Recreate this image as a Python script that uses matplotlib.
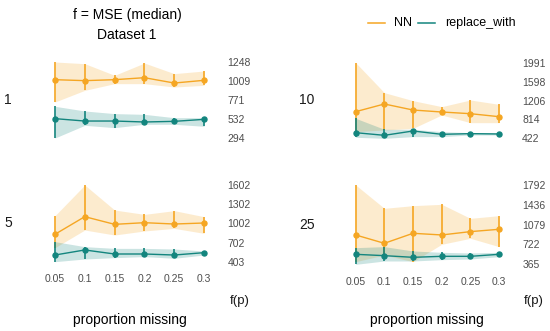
import matplotlib.pyplot as plt

# proportion missing (x axis)
props = [0.05, 0.1, 0.15, 0.2, 0.25, 0.3]
prop_labels = ["0.05", "0.1", "0.15", "0.2", "0.25", "0.3"]

# panel 1
nn_med_1 = [1026, 1014, 1026, 1051, 984, 1018]
nn_hi_1 = [1248, 1227, 1081, 1235, 1102, 1135]
nn_lo_1 = [746, 892, 976, 976, 934, 955]
rw_med_1 = [537, 507, 507, 495, 503, 528]
rw_hi_1 = [692, 633, 600, 591, 549, 549]
rw_lo_1 = [294, 453, 424, 466, 466, 441]
ticks_1 = [294, 532, 771, 1009, 1248]

# panel 5
nn_med_5 = [831, 1107, 987, 1013, 992, 1008]
nn_hi_5 = [1122, 1602, 1211, 1143, 1201, 1107]
nn_lo_5 = [622, 898, 820, 883, 924, 846]
rw_med_5 = [507, 586, 523, 523, 507, 544]
rw_hi_5 = [716, 638, 611, 611, 601, 570]
rw_lo_5 = [403, 445, 466, 482, 456, 507]
ticks_5 = [403, 702, 1002, 1302, 1602]

# panel 10
nn_med_10 = [975, 1134, 1009, 968, 933, 871]
nn_hi_10 = [1991, 1369, 1203, 1079, 1217, 1127]
nn_lo_10 = [560, 595, 629, 906, 747, 747]
rw_med_10 = [539, 484, 574, 505, 519, 512]
rw_hi_10 = [837, 609, 609, 560, 539, 539]
rw_lo_10 = [443, 422, 457, 457, 491, 491]
ticks_10 = [422, 814, 1206, 1598, 1991]

# panel 25
nn_med_25 = [893, 743, 923, 893, 953, 995]
nn_hi_25 = [1792, 1372, 1420, 1444, 1192, 1240]
nn_lo_25 = [413, 533, 413, 725, 833, 683]
rw_med_25 = [545, 521, 491, 509, 509, 545]
rw_hi_25 = [665, 683, 605, 581, 569, 581]
rw_lo_25 = [365, 425, 425, 449, 461, 503]
ticks_25 = [365, 722, 1079, 1436, 1792]

ORANGE = "#F5A623"
TEAL = "#13857E"
W, H = 550, 331

plt.rcParams["font.family"] = ["Liberation Sans", "DejaVu Sans"]

fig = plt.figure(figsize=(5.5, 3.31), dpi=100)


def px_axes(left, top, right, bottom):
    return fig.add_axes([left / W, 1 - bottom / H, (right - left) / W, (bottom - top) / H])


def px_text(x, y, s, **kw):
    fig.text(x / W, 1 - y / H, s, ha=kw.pop("ha", "center"), va="center", **kw)


def draw_series(ax, med, lo, hi, color):
    ax.fill_between(props, lo, hi, color=color, alpha=0.22, linewidth=0)
    ax.vlines(props, lo, hi, color=color, linewidth=1.2)
    ax.plot(props, med, color=color, linewidth=1.0, marker="o", markersize=3.6)


panels = [
    (47.5, 58.2, 211.5, 141.8, 8, "1", nn_med_1, nn_lo_1, nn_hi_1, rw_med_1, rw_lo_1, rw_hi_1, ticks_1, False),
    (47.5, 181.2, 211.5, 265.5, 8, "5", nn_med_5, nn_lo_5, nn_hi_5, rw_med_5, rw_lo_5, rw_hi_5, ticks_5, True),
    (348.5, 58.9, 506.2, 142.1, 307, "10", nn_med_10, nn_lo_10, nn_hi_10, rw_med_10, rw_lo_10, rw_hi_10, ticks_10, False),
    (348.5, 181.0, 506.2, 268.3, 307, "25", nn_med_25, nn_lo_25, nn_hi_25, rw_med_25, rw_lo_25, rw_hi_25, ticks_25, True),
]

for (l, t, r, b, lx, lab, nmed, nlo, nhi, rmed, rlo, rhi, ticks, bottom) in panels:
    ax = px_axes(l, t, r, b)
    draw_series(ax, nmed, nlo, nhi, ORANGE)
    draw_series(ax, rmed, rlo, rhi, TEAL)
    span = ticks[-1] - ticks[0]
    ax.set_ylim(ticks[0] - 0.05 * span, ticks[-1] + 0.05 * span)
    ax.set_xlim(0.0375, 0.3125)
    ax.set_yticks(ticks)
    ax.set_yticklabels([str(v) for v in ticks])
    ax.yaxis.tick_right()
    ax.tick_params(axis="y", length=0, pad=11.5, labelsize=7.5, labelcolor="#4d4d4d")
    ax.set_xticks(props)
    if bottom:
        ax.set_xticklabels(prop_labels)
        ax.tick_params(axis="x", length=0, pad=6, labelsize=7.5, labelcolor="#4d4d4d")
        px_text(r + 28, 301, "f(p)", fontsize=9.5, color="#1a1a1a")
        px_text((l + r) / 2, 320, "proportion missing", fontsize=10)
    else:
        ax.set_xticklabels([])
        ax.tick_params(axis="x", length=0)
    for s in ax.spines.values():
        s.set_visible(False)
    px_text(lx, (t + b) / 2, lab, fontsize=10, color="#1a1a1a")

px_text(127, 15, "f = MSE (median)", fontsize=10)
px_text(127, 35, "Dataset 1", fontsize=10)

# legend
fig.lines.append(plt.Line2D([368 / W, 385 / W], [1 - 23 / H] * 2, transform=fig.transFigure, color=ORANGE, linewidth=1.1))
px_text(394, 23, "NN", fontsize=9, ha="left")
fig.lines.append(plt.Line2D([418 / W, 435 / W], [1 - 23 / H] * 2, transform=fig.transFigure, color=TEAL, linewidth=1.1))
px_text(445, 23, "replace_with", fontsize=9, ha="left")

fig.savefig("out.png", dpi=100)
